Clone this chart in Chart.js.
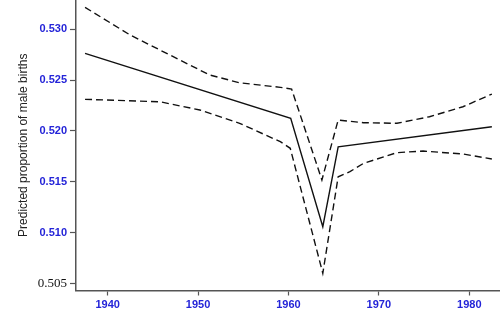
<!DOCTYPE html>
<html>
<head>
<meta charset="utf-8">
<script src="https://cdn.jsdelivr.net/npm/chart.js@4"></script>
<style>
  html, body { margin: 0; padding: 0; background: #fff; }
  #wrap { width: 500px; height: 313px; }
</style>
</head>
<body>
<div id="wrap"><canvas id="chart"></canvas></div>
<script>
// predicted proportion (solid) and confidence band (dashed)
const fitYears = [1937.5, 1960.25, 1963.8, 1965.5, 1982.5];
const fitValues = [0.52764, 0.52124, 0.51057, 0.51844, 0.52041];

const upperYears = [1937.5, 1942.5, 1945.8, 1951.3, 1954.6, 1959.1, 1960.35, 1963.7, 1965.5, 1968.3, 1972.0, 1975.6, 1979.3, 1982.5];
const upperValues = [0.53217, 0.52944, 0.52796, 0.5255, 0.52474, 0.52429, 0.52412, 0.51517, 0.52107, 0.52081, 0.52075, 0.5214, 0.52238, 0.52363];

const lowerYears = [1937.5, 1945.8, 1950.2, 1954.6, 1959.1, 1960.2, 1963.8, 1965.5, 1966.8, 1968.3, 1972.0, 1974.9, 1979.3, 1982.5];
const lowerValues = [0.52311, 0.52287, 0.52206, 0.52075, 0.51894, 0.51829, 0.50599, 0.51549, 0.51599, 0.51681, 0.51786, 0.51802, 0.51773, 0.51724];

const xTicks = [1940, 1950, 1960, 1970, 1980];
const yTicks = [0.505, 0.510, 0.515, 0.520, 0.525, 0.530];

const toPoints = (xs, ys) => xs.map((x, i) => ({ x, y: ys[i] }));
const blue = "#2424d8";

new Chart(document.getElementById("chart"), {
    type: "line",
    data: {
        datasets: [
            { data: toPoints(upperYears, upperValues), borderColor: "#111", borderWidth: 1.4, borderDash: [7, 4] },
            { data: toPoints(fitYears, fitValues), borderColor: "#111", borderWidth: 1.4 },
            { data: toPoints(lowerYears, lowerValues), borderColor: "#111", borderWidth: 1.4, borderDash: [7, 4] }
        ]
    },
    options: {
        responsive: true,
        maintainAspectRatio: false,
        animation: false,
        layout: { padding: 0 },
        elements: { point: { radius: 0 }, line: { tension: 0 } },
        plugins: { legend: { display: false }, tooltip: { enabled: false } },
        scales: {
            x: {
                type: "linear",
                min: 1936.5,
                max: 1983.4,
                afterBuildTicks: axis => { axis.ticks = xTicks.map(v => ({ value: v })); },
                afterFit: axis => { axis.height = 22.5; axis.paddingLeft = 0; axis.paddingRight = 0; },
                border: { color: "#555", width: 1.5 },
                grid: { drawOnChartArea: false, tickLength: 5, color: "#555", tickWidth: 1.2 },
                ticks: {
                    color: blue,
                    font: { family: "Liberation Sans", size: 11, weight: "bold" },
                    padding: 3,
                    maxRotation: 0,
                    callback: v => String(v)
                }
            },
            y: {
                min: 0.50429,
                max: 0.53289,
                afterBuildTicks: axis => { axis.ticks = yTicks.map(v => ({ value: v })); },
                afterFit: axis => { axis.width = 76; axis.paddingTop = 0; axis.paddingBottom = 0; },
                border: { color: "#555", width: 1.5 },
                grid: { drawOnChartArea: false, tickLength: 6, color: "#555", tickWidth: 1.2 },
                ticks: {
                    padding: 3,
                    callback: v => v.toFixed(3),
                    color: ctx => ctx.tick && ctx.tick.value === 0.505 ? "#111" : blue,
                    font: ctx => ctx.tick && ctx.tick.value === 0.505
                        ? { family: "Liberation Serif", size: 13, weight: "normal" }
                        : { family: "Liberation Sans", size: 11, weight: "bold" }
                },
                title: {
                    display: true,
                    text: "Predicted proportion of male births",
                    color: "#222",
                    font: { family: "Liberation Sans", size: 12 },
                    padding: { top: 16, bottom: 0 }
                }
            }
        }
    }
});
</script>
</body>
</html>
